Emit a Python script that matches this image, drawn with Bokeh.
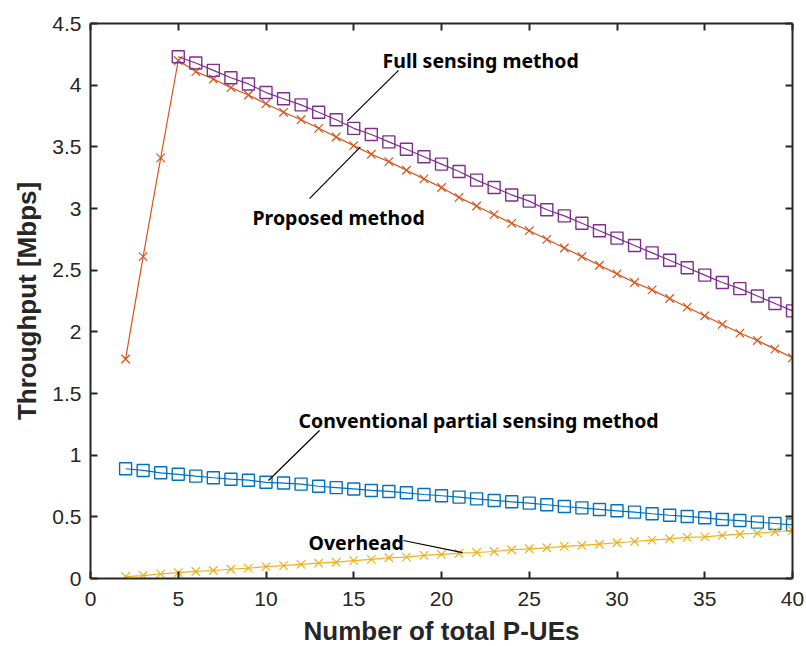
from bokeh.plotting import figure
from bokeh.models import LinearAxis, Range1d, Label, FixedTicker, CustomLabelingPolicy
from bokeh.embed import file_html
from bokeh.resources import INLINE

# ---- data ----
x_full = list(range(5, 41))
full_sensing = [4.23, 4.18, 4.12, 4.06, 4.01, 3.94, 3.89, 3.84, 3.78, 3.72, 3.65, 3.60,
                3.54, 3.48, 3.42, 3.36, 3.30, 3.23, 3.17, 3.11, 3.06, 2.99, 2.94, 2.88,
                2.82, 2.76, 2.70, 2.64, 2.58, 2.52, 2.46, 2.40, 2.35, 2.29, 2.23, 2.17]

x_all = list(range(2, 41))
proposed = [1.78, 2.61, 3.41, 4.20, 4.11, 4.05, 3.98, 3.92, 3.85, 3.78, 3.72, 3.65, 3.58,
            3.51, 3.44, 3.38, 3.31, 3.24, 3.17, 3.09, 3.02, 2.95, 2.88, 2.82, 2.75, 2.68,
            2.61, 2.54, 2.47, 2.40, 2.34, 2.27, 2.20, 2.13, 2.06, 1.99, 1.93, 1.86, 1.79]
conventional = [0.890, 0.876, 0.857, 0.845, 0.830, 0.817, 0.805, 0.797, 0.780, 0.774,
                0.765, 0.748, 0.737, 0.726, 0.714, 0.706, 0.695, 0.681, 0.671, 0.660,
                0.646, 0.633, 0.622, 0.611, 0.598, 0.584, 0.573, 0.560, 0.549, 0.538,
                0.525, 0.513, 0.503, 0.492, 0.478, 0.470, 0.457, 0.446, 0.435]
overhead = [0.016, 0.024, 0.038, 0.047, 0.057, 0.065, 0.075, 0.084, 0.096, 0.104,
            0.115, 0.124, 0.132, 0.145, 0.155, 0.168, 0.173, 0.187, 0.195, 0.205,
            0.211, 0.219, 0.233, 0.241, 0.249, 0.260, 0.268, 0.278, 0.290, 0.300,
            0.311, 0.322, 0.333, 0.338, 0.349, 0.359, 0.367, 0.379, 0.389]

x_ticks = [0, 5, 10, 15, 20, 25, 30, 35, 40]
y_ticks = [0, 0.5, 1, 1.5, 2, 2.5, 3, 3.5, 4, 4.5]
y_tick_labels = ["0", "0.5", "1", "1.5", "2", "2.5", "3", "3.5", "4", "4.5"]

BLUE = "#0072BD"
ORANGE = "#D95319"
YELLOW = "#EDB120"
PURPLE = "#7E2F8E"
AX = "#262626"

p = figure(frame_width=702, frame_height=555, output_backend="svg", toolbar_location=None,
           x_range=Range1d(0, 40), y_range=Range1d(0, 4.5),
           min_border_left=90, min_border_top=23, min_border_right=12, min_border_bottom=60)
p.outline_line_color = None
p.xgrid.visible = False
p.ygrid.visible = False
p.background_fill_color = "white"
p.border_fill_color = "white"

# series
p.line(x_all, proposed, line_color=ORANGE, line_width=1.2)
p.scatter(x_all, proposed, marker="x", size=12, line_color=ORANGE, line_width=1.2)
p.line(x_all, conventional, line_color=BLUE, line_width=1.2)
p.scatter(x_all, conventional, marker="square", size=12, line_color=BLUE, fill_color=None, line_width=1.4)
p.line(x_full, full_sensing, line_color=PURPLE, line_width=1.2)
p.scatter(x_full, full_sensing, marker="square", size=12, line_color=PURPLE, fill_color=None, line_width=1.4)
p.line(x_all, overhead, line_color=YELLOW, line_width=1.2)
p.scatter(x_all, overhead, marker="x", size=12, line_color=YELLOW, line_width=1.2)

hide_labels = CustomLabelingPolicy(code="return new indices.constructor(indices.size, 0)")

def style_axis(ax, show_labels):
    ax.axis_line_color = AX
    ax.axis_line_width = 2
    ax.major_tick_line_color = AX
    ax.major_tick_line_width = 2
    ax.major_tick_in = 7
    ax.major_tick_out = 0
    ax.minor_tick_line_color = None
    if show_labels:
        ax.major_label_text_font = "Liberation Sans"
        ax.major_label_text_font_size = "21px"
        ax.major_label_text_color = AX
        ax.axis_label_text_font = "Liberation Sans"
        ax.axis_label_text_font_style = "bold"
        ax.axis_label_text_font_size = "26px"
        ax.axis_label_text_color = AX
    else:
        ax.major_label_policy = hide_labels
        ax.major_label_standoff = 0

xa = p.xaxis[0]
xa.ticker = FixedTicker(ticks=x_ticks)
xa.axis_label = "Number of total P-UEs"
style_axis(xa, True)
xa.major_label_standoff = 13
xa.axis_label_standoff = 7

ya = p.yaxis[0]
ya.ticker = FixedTicker(ticks=y_ticks)
ya.major_label_overrides = {float(t): s for t, s in zip(y_ticks, y_tick_labels)}
ya.axis_label = "Throughput [Mbps]"
style_axis(ya, True)
ya.major_label_standoff = 9
ya.axis_label_standoff = 7

top = LinearAxis(ticker=FixedTicker(ticks=x_ticks))
style_axis(top, False)
p.add_layout(top, "above")
right = LinearAxis(ticker=FixedTicker(ticks=y_ticks))
style_axis(right, False)
p.add_layout(right, "right")

# annotations
def add_label(x, y, txt):
    p.add_layout(Label(x=x, y=y, text=txt, text_font="Noto Sans", text_font_style="bold",
                       text_font_size="19.5px", text_color="black", text_baseline="middle",
                       text_align="left"))

add_label(16.64, 4.20, "Full sensing method")
add_label(9.23, 2.93, "Proposed method")
add_label(11.85, 1.28, "Conventional partial sensing method")
add_label(12.42, 0.29, "Overhead")

p.segment(x0=[17.55, 12.48, 13.05, 17.83], y0=[4.12, 3.08, 1.20, 0.308],
          x1=[14.64, 15.38, 10.14, 21.2], y1=[3.71, 3.50, 0.795, 0.21],
          line_color="black", line_width=1.2)

open("out.html", "w").write(file_html(p, INLINE))
